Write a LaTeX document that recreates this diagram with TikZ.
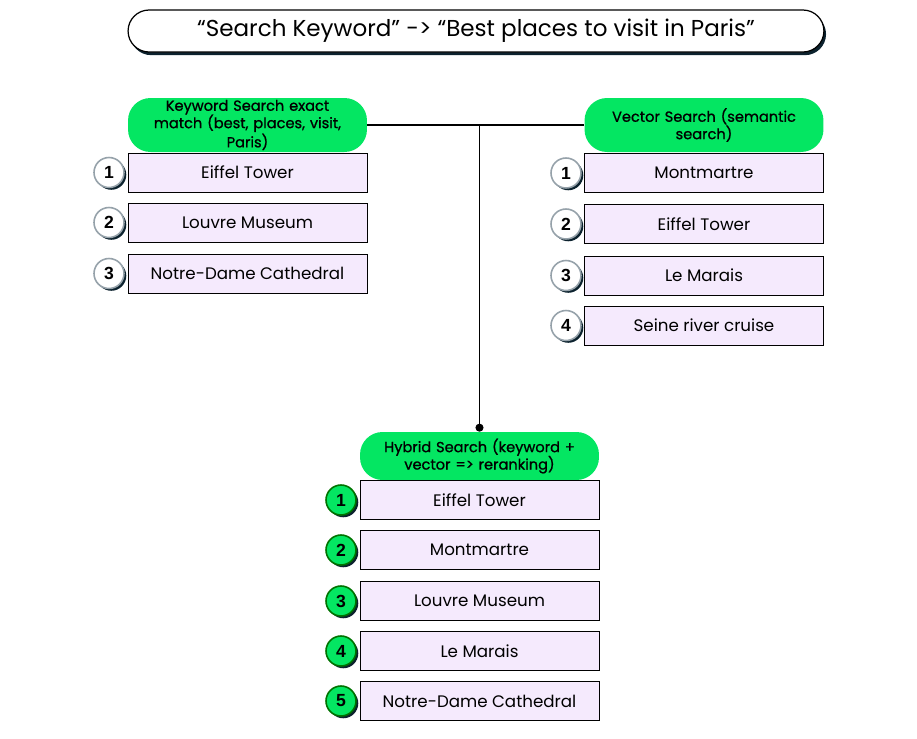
\documentclass[tikz,border=0pt]{standalone}
\usepackage{fontspec}
\setmainfont{Poppins}
\newfontfamily\numfont{Liberation Sans}
\usepackage{tikz}
\usetikzlibrary{arrows.meta,positioning,shadows}

\definecolor{pillgreen}{RGB}{4,230,98}
\definecolor{lavender}{RGB}{245,234,253}
\definecolor{navy}{RGB}{12,34,46}
\definecolor{ringgray}{RGB}{150,162,170}

\begin{document}
\begin{tikzpicture}[
      x=0.02cm, y=-0.02cm,
      font=\fontsize{9.5}{11}\selectfont,
      titlebox/.style={
          rectangle, draw=black, fill=white,
          line width=0.7pt, rounded corners=0.42cm,
          minimum width=13.92cm, minimum height=0.84cm,
          font=\fontsize{13.1}{15}\selectfont,
          drop shadow={shadow xshift=1.2pt, shadow yshift=-1.8pt,
                       fill=navy, opacity=1}
      },
      pill/.style={
          rectangle, draw=none, fill=pillgreen,
          rounded corners=0.45cm,
          minimum width=4.78cm, minimum height=1.08cm,
          text width=4.2cm, align=center, inner sep=1pt,
          font=\fontsize{8.3}{9.9}\selectfont\addfontfeature{FakeBold=0.9}
      },
      item/.style={
          rectangle, draw=black, fill=lavender,
          line width=0.5pt,
          minimum width=4.78cm, minimum height=0.78cm,
          inner sep=1pt
      },
      rank/.style={
          circle, draw=ringgray, fill=white,
          line width=0.9pt, minimum size=0.6cm, inner sep=0pt,
          font=\numfont\bfseries\fontsize{10}{12}\selectfont,
          drop shadow={shadow xshift=1.3pt, shadow yshift=-1.3pt,
                       fill=navy, opacity=1}
      },
      toprank/.style={rank, fill=pillgreen, draw=green!45!black},
      link/.style={line width=0.7pt, draw=black},
      tap/.style={-{Circle[length=1.6mm]}, line width=0.7pt, draw=black}
  ]

  \useasboundingbox (0,0) rectangle (917,738);

  \node[titlebox] (query) at (476,31)
      {“Search Keyword” -> “Best places to visit in Paris”};

  % Keyword search column
  \node[pill] (kw) at (247.5,125)
      {Keyword Search exact\\match (best, places, visit,\\Paris)};
  \foreach \n/\y/\txt in {1/172.5/Eiffel Tower, 2/222.5/Louvre Museum,
      3/273.5/Notre-Dame Cathedral}{
      \node[item] (kw\n) at (247.5,\y) {\txt};
      \node[rank] (kwr\n) at (109,\y) {\n};
  }

  % Vector search column
  \node[pill] (vec) at (704,125)
      {Vector Search (semantic\\search)};
  \foreach \n/\y/\txt in {1/173/Montmartre, 2/224/Eiffel Tower,
      3/275.5/Le Marais, 4/325.5/Seine river cruise}{
      \node[item] (vec\n) at (704,\y) {\txt};
      \node[rank] (vecr\n) at (566,\y) {\n};
  }

  % Hybrid search column
  \node[pill, minimum height=0.96cm] (hy) at (479.5,456)
      {Hybrid Search (keyword +\\vector => reranking)};
  \foreach \n/\y/\txt in {1/500/Eiffel Tower, 2/550/Montmartre,
      3/601/Louvre Museum, 4/651/Le Marais, 5/701/Notre-Dame Cathedral}{
      \node[item] (hy\n) at (479.5,\y) {\txt};
      \node[toprank] (hyr\n) at (341,\y) {\n};
  }

  % connectors
  \draw[link] (kw.east) -- (vec.west);
  \coordinate (join) at (kw.east -| hy.north);
  \draw[tap] (join) -- (hy.north);
\end{tikzpicture}
\end{document}
